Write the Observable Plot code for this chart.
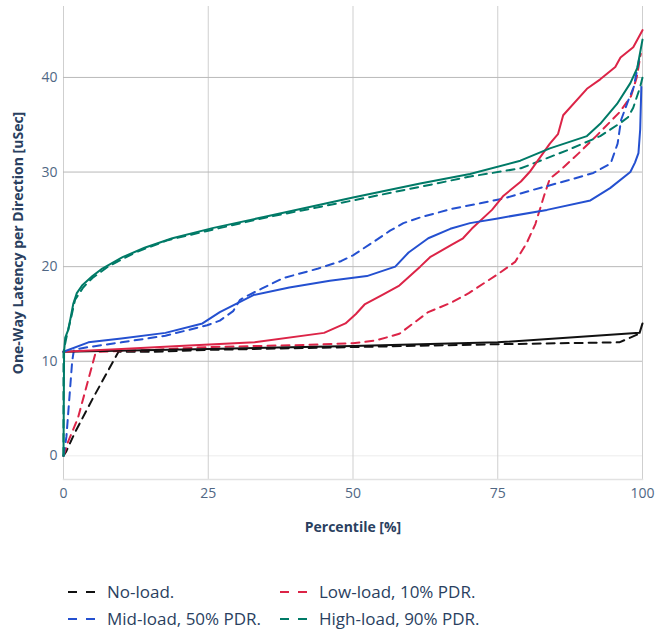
<!DOCTYPE html>
<html>
<head>
<meta charset="utf-8">
<script src="https://cdn.jsdelivr.net/npm/d3@7"></script>
<script src="https://cdn.jsdelivr.net/npm/@observablehq/plot@0.6"></script>
<style>
  body { margin: 0; background: #fff; font-family: "Open Sans", sans-serif; }
  #wrap { width: 657px; }
  #legend { display: grid; grid-template-columns: 212px 220px; margin-left: 68px; margin-top: 33px; row-gap: 0; }
  .item { display: flex; align-items: center; height: 27px; font-size: 17px; color: #2a3f5f; white-space: nowrap; }
  .item svg { margin-right: 12px; flex: none; }
</style>
</head>
<body>
<div id="wrap"></div>
<script>
// Series names and colours
const seriesNames = ["No-load.", "Low-load, 10% PDR.", "Mid-load, 50% PDR.", "High-load, 90% PDR."];
const seriesColors = ["#111111", "#dc2447", "#2450d0", "#007a67"];
const legendOrder = ["No-load.", "Low-load, 10% PDR.", "Mid-load, 50% PDR.", "High-load, 90% PDR."];

// Dashed traces (legend entries): [percentile, latency]
const noLoadDashed = [[0,0],[0.5,0.5],[2,2.5],[5,6],[9.5,11],[15,11],[25,11.2],[50,11.5],[75,11.8],[96,12],[99.8,13]];
const lowLoadDashed = [[0,0],[0.8,1.5],[2.5,4],[5.5,10.8],[6,11],[15,11.2],[25,11.5],[40,11.7],[50,11.9],[54,12.2],[58,12.9],[63,15.2],[67,16.2],[70,17.2],[75,19.2],[78,20.5],[80,22.5],[81.5,24.5],[83,27.5],[84,29.3],[86,30.3],[89,32],[92,33.8],[96,36.3],[98,38],[99,40],[99.7,42.5]];
const midLoadDashed = [[0,0],[0.5,2],[1,6],[1.5,10],[1.8,11.2],[4.3,11.5],[10,12],[17.6,12.7],[24.8,13.8],[27,14.3],[29.3,15.3],[30.5,16.5],[32,17],[34.3,17.7],[38,18.8],[44,19.8],[48,20.6],[50,21.2],[53.5,22.6],[56.4,23.8],[58.7,24.6],[61.6,25.2],[67,26.1],[72,26.7],[76,27.2],[81,28.1],[87,29.1],[91.5,29.9],[94.5,30.9],[95.7,33],[96.3,35.5],[97.5,37.5],[98.5,39],[99.6,42.5]];
const highLoadDashed = [[0,0],[0,11],[0.5,12.5],[1.2,14.3],[2,16.5],[3.4,17.8],[5,18.8],[7.7,20],[12.4,21.5],[18,22.8],[25,23.8],[35,25.2],[50,27],[64.5,28.8],[70,29.5],[79,30.4],[87,32.3],[92.7,33.8],[96.2,35.2],[97.5,35.8],[98.4,36.8],[99.6,39],[100,40]];

// Solid traces (no legend entries)
const noLoadSolid = [[0,11],[25,11.3],[50,11.6],[75,12],[99.5,13],[100,14]];
const lowLoadSolid = [[0,11],[10,11.3],[20,11.6],[33,12],[45,13],[48.7,14],[50.5,15],[52,16],[55,17],[58,18],[61.6,20],[63.3,21],[67,22.3],[69,23],[70.5,24],[74,26],[76,27.5],[79,29],[80.5,30],[84,33],[85.4,34],[86.3,36],[90.4,38.8],[92.7,39.8],[95.3,41.1],[96.2,42.1],[98.4,43.2],[100,45]];
const midLoadSolid = [[0,11],[4.3,12],[10,12.4],[17.6,13],[24,14],[27,15.2],[32.8,17],[39,17.8],[46,18.5],[52.4,19],[57.3,20],[59.6,21.5],[63,23],[66.8,24],[70.2,24.6],[75,25.1],[83.5,26],[91,27],[94.4,28.3],[97.9,30],[98.7,31],[99.3,32],[99.6,34.5],[99.8,39]];
const highLoadSolid = [[0,0],[0.1,11],[0.3,12.5],[0.8,13.3],[1.2,14.5],[1.7,16.1],[2.3,17.2],[3.2,18],[5,19],[6.7,19.8],[10.2,21],[14,22],[18.8,23],[25.9,24.1],[35,25.3],[50,27.3],[61.6,28.8],[70.2,29.8],[78.9,31.2],[84,32.5],[90.4,33.8],[92.7,35.1],[95.6,37.2],[97.9,39.4],[99.1,41],[100,44]];

// Axis ticks and labels
const xTicks = [0, 25, 50, 75, 100];
const yTicks = [0, 10, 20, 30, 40];
const yGrid = [10, 20, 30, 40];
const xLabel = "Percentile [%]";
const yLabel = "One-Way Latency per Direction [uSec]";

const toRows = (pts, name) => pts.map(([x, y]) => ({x, y, series: name}));
const dashedData = [
  ...toRows(noLoadDashed, seriesNames[0]),
  ...toRows(lowLoadDashed, seriesNames[1]),
  ...toRows(midLoadDashed, seriesNames[2]),
  ...toRows(highLoadDashed, seriesNames[3])
];
const solidData = [
  ...toRows(noLoadSolid, seriesNames[0]),
  ...toRows(lowLoadSolid, seriesNames[1]),
  ...toRows(midLoadSolid, seriesNames[2]),
  ...toRows(highLoadSolid, seriesNames[3])
];

const font = "'Open Sans', sans-serif";
const titleColor = "#2a3f5f";
const tickColor = "#506784";

const chart = Plot.plot({
  width: 657,
  height: 545,
  marginTop: 6,
  marginBottom: 66,
  marginLeft: 63,
  marginRight: 15,
  style: {fontFamily: font, fontSize: "14px", color: tickColor, background: "#fff"},
  x: {domain: [0, 100]},
  y: {domain: [-2.5, 47.5]},
  color: {domain: seriesNames, range: seriesColors},
  marks: [
    Plot.ruleY([0], {stroke: "#ececec", strokeWidth: 1}),
    Plot.ruleX(xTicks, {stroke: "#cfcfcf", strokeWidth: 1}),
    Plot.ruleY(yGrid, {stroke: "#b9b9b9", strokeWidth: 1}),
    Plot.frame({anchor: "bottom", stroke: "#e2e2e2", strokeWidth: 1.5}),
    Plot.axisX({ticks: xTicks, tickSize: 0, tickPadding: 9, label: null, fontSize: 14, fill: tickColor}),
    Plot.axisY({ticks: yTicks, tickSize: 0, tickPadding: 6, label: null, fontSize: 14, fill: tickColor}),
    Plot.line(dashedData, {x: "x", y: "y", z: "series", stroke: "series", strokeWidth: 2, strokeDasharray: "8,6", strokeLinejoin: "round"}),
    Plot.line(solidData, {x: "x", y: "y", z: "series", stroke: "series", strokeWidth: 2, strokeLinejoin: "round"}),
    Plot.text([xLabel], {text: d => d, frameAnchor: "bottom", dy: 52, fontWeight: "bold", fontSize: 14, fill: titleColor}),
    Plot.text([yLabel], {text: d => d, frameAnchor: "left", textAnchor: "middle", dx: -45, rotate: -90, fontWeight: "bold", fontSize: 14, fill: titleColor})
  ]
});

const wrap = document.getElementById("wrap");
wrap.appendChild(chart);

const legend = document.createElement("div");
legend.id = "legend";
for (const name of legendOrder) {
  const color = seriesColors[seriesNames.indexOf(name)];
  const item = document.createElement("div");
  item.className = "item";
  item.innerHTML = `<svg width="27" height="10"><line x1="0" y1="5" x2="27" y2="5" stroke="${color}" stroke-width="2" stroke-dasharray="9,9"/></svg><span>${name}</span>`;
  legend.appendChild(item);
}
wrap.appendChild(legend);
</script>
</body>
</html>
